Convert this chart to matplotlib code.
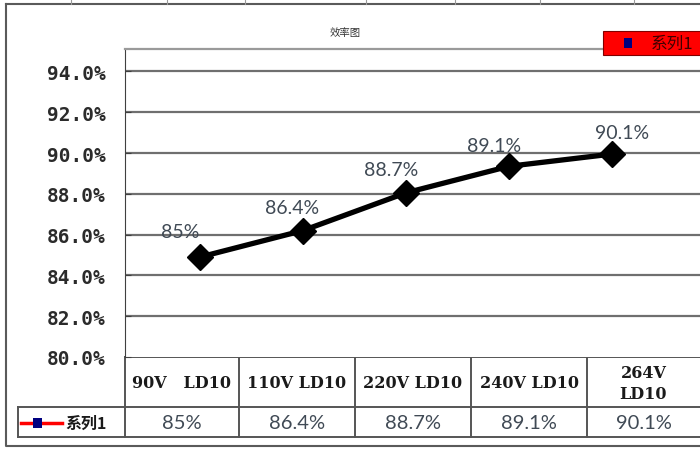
import matplotlib
matplotlib.use("Agg")
import matplotlib.pyplot as plt
from matplotlib.patches import Rectangle
from matplotlib.lines import Line2D

# data
categories = ["90V   LD10", "110V LD10", "220V LD10", "240V LD10", "264V\nLD10"]
efficiency = [84.9, 86.2, 88.05, 89.35, 89.95]   # where the markers sit
value_labels = ["85%", "86.4%", "88.7%", "89.1%", "90.1%"]
series_name = "系列1"
title = "效率图"
y_ticks = [80, 82, 84, 86, 88, 90, 92, 94]

W, H = 700, 452
CJK = ["Noto Sans CJK SC", "DejaVu Sans"]

fig = plt.figure(figsize=(W / 100, H / 100), dpi=100)


def fx(x):
    return x / W


def fy(y):
    return 1 - y / H


# plot area in pixel terms: left 125, right 700, top 50, bottom 358
ax = fig.add_axes([fx(125), fy(358), fx(700 - 125), (358 - 50) / H])
ax.plot(range(len(efficiency)), efficiency, color="black", lw=3.8,
        marker="D", ms=13, mfc="black", mec="black", solid_joinstyle="round", zorder=3)
ax.set_ylim(80, 95.1)
ax.set_xlim(-0.728, 4.854)
ax.set_yticks(y_ticks)
ax.set_yticklabels([f"{v:.1f}%" for v in y_ticks], family="DejaVu Sans Mono",
                   fontweight="bold", fontsize=14, color="#2b2b2b")
ax.set_xticks([])
ax.tick_params(axis="y", direction="in", length=4, pad=14, color="#404040")
for v in y_ticks[1:]:
    ax.axhline(v, color="#6f6f6f", lw=1.6, zorder=1)
for side in ["right", "bottom"]:
    ax.spines[side].set_visible(False)
ax.spines["left"].set_color("#404040")
ax.spines["top"].set_color("#9a9a9a")
ax.spines["top"].set_linewidth(1.6)

# data labels above the markers (offsets in pixels)
label_offsets = [(-20, 26), (-11, 23), (-15, 23), (-15, 21), (10, 22)]
for i, (v, lab) in enumerate(zip(efficiency, value_labels)):
    dx, dy = label_offsets[i]
    ax.annotate(lab, (i, v), xytext=(dx * 0.72, dy * 0.72), textcoords="offset points",
                ha="center", va="center", fontsize=14, family="Lato", color="#404a55")

# overlay in pixel coordinates for frame, title, legend and data table
ov = fig.add_axes([0, 0, 1, 1], zorder=-1)
ov.set_xlim(0, W)
ov.set_ylim(H, 0)
ov.axis("off")
top = fig.add_axes([0, 0, 1, 1], zorder=5)
top.set_xlim(0, W)
top.set_ylim(H, 0)
top.axis("off")

# outer chart frame
ov.plot([6, 6, 706, 706, 6], [5, 447, 447, 5, 5], color="#5a5a5a", lw=1.5)
for x in [71, 167, 245, 366, 455, 540, 634]:
    ov.plot([x, x], [0, 5], color="#9a9a9a", lw=0.8)

ov.text(345, 33, title, ha="center", va="center", fontsize=7.5, family=CJK, color="#333333")

# legend box at top right
top.add_patch(Rectangle((603, 32), 100, 24, facecolor="#ff0000", edgecolor="#800000", lw=0.8))
top.add_patch(Rectangle((624, 39), 8, 10, facecolor="#000080", edgecolor="none"))
top.text(651, 44, series_name, ha="left", va="center", fontsize=12, family=CJK, color="#400000")

# data table
col_edges = [125, 239, 355, 471, 587, 700]
row_top, row_mid, row_bot = 358, 408, 438
line_kw = dict(color="#555555", lw=1.4)
ov.plot([125, 700], [row_top, row_top], **line_kw)
ov.plot([18, 700], [row_mid, row_mid], **line_kw)
ov.plot([18, 700], [row_bot, row_bot], **line_kw)
ov.plot([18, 18], [row_mid, row_bot], **line_kw)
for x in col_edges[:-1]:
    ov.plot([x, x], [row_top, row_bot], **line_kw)

for i, cat in enumerate(categories):
    cx = (col_edges[i] + col_edges[i + 1]) / 2
    ov.text(cx, (row_top + row_mid) / 2 + 1, cat, ha="center", va="center",
            fontsize=11.5, family="DejaVu Serif", fontweight="bold", color="#1a1a1a",
            linespacing=1.3)
    ov.text(cx, (row_mid + row_bot) / 2 + 1, value_labels[i], ha="center", va="center",
            fontsize=14.5, family="Lato", color="#404a55")

# legend key inside the table
ov.add_line(Line2D([21, 62], [424, 424], color="#ff0000", lw=2.5))
ov.add_patch(Rectangle((33, 419), 9, 10, facecolor="#000080", edgecolor="none", zorder=3))
ov.text(65, 424, series_name, ha="left", va="center", fontsize=11.5,
        family=CJK, fontweight="bold", color="#1a1a1a")

fig.savefig("out.png", dpi=100)
